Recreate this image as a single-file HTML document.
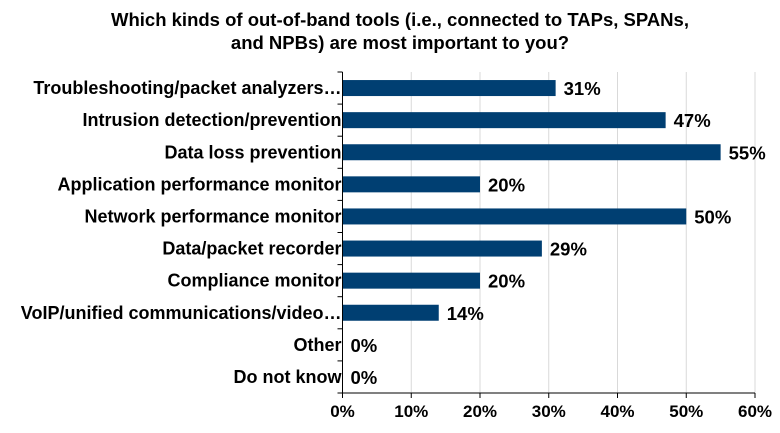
<!DOCTYPE html>
<html><head><meta charset="utf-8"><style>
body{margin:0;background:#fff;}
svg{display:block;font-family:"Liberation Sans",Arial,sans-serif;font-weight:bold;}
</style></head><body>
<svg id="chart" width="780" height="433">
<g font-size="18.5" text-anchor="middle" fill="#000">
<text x="400" y="26">Which kinds of out-of-band tools (i.e., connected to TAPs, SPANs,</text>
<text x="400" y="49">and NPBs) are most important to you?</text>
</g>
<g id="grid"></g><g id="bars"></g><g id="axes"></g>
</svg>
<script>
const categories=["Troubleshooting/packet analyzers…","Intrusion detection/prevention","Data loss prevention","Application performance monitor","Network performance monitor","Data/packet recorder","Compliance monitor","VoIP/unified communications/video…","Other","Do not know"];
const values=[31,47,55,20,50,29,20,14,0,0];
const ticks=[0,10,20,30,40,50,60];
const NS="http://www.w3.org/2000/svg";
const x0=342.5,x1=755,yTop=72,yBot=393;
const xs=v=>x0+(v/60)*(x1-x0);
const band=(yBot-yTop)/categories.length;
const ys=i=>yTop+band*(i+0.5);
function mk(p,tag,a){const e=document.createElementNS(NS,tag);for(const k in a)e.setAttribute(k,a[k]);document.getElementById(p).appendChild(e);return e;}
ticks.forEach(t=>{
 if(t>0){const g=mk('grid','line',{x1:xs(t),x2:xs(t),y1:yTop,y2:yBot,stroke:'#d9d9d9','stroke-width':1});
 
 }
 const tm=mk('axes','line',{x1:xs(t),x2:xs(t),y1:yBot,y2:yBot+5,stroke:'#000'});
 
 
 const tl=mk('axes','text',{x:xs(t),y:yBot+24,'font-size':17,'text-anchor':'middle'});
 tl.textContent=t+'%';
 
 
});
categories.forEach((c,i)=>{
 const y=ys(i);
 const r=mk('bars','rect',{x:x0,y:y-8,width:xs(values[i])-x0,height:16,fill:'#003f72'});
 
 
 const v=mk('bars','text',{x:xs(values[i])+8,y:y+7,'font-size':18.5});
 v.textContent=values[i]+'%';
 
 
 const l=mk('axes','text',{x:x0-1,y:y+6,'font-size':18,'text-anchor':'end'});
 l.textContent=c;
 
 
});
for(let i=0;i<=categories.length;i++){
 const y=yTop+band*i;
 const t=mk('axes','line',{x1:x0-5,x2:x0,y1:y,y2:y,stroke:'#000'});
 
 
}
const ya=mk('axes','line',{x1:x0,x2:x0,y1:yTop,y2:yBot,stroke:'#000'});


const xa=mk('axes','line',{x1:x0,x2:x1,y1:yBot,y2:yBot,stroke:'#000'});


</script>
</body></html>
